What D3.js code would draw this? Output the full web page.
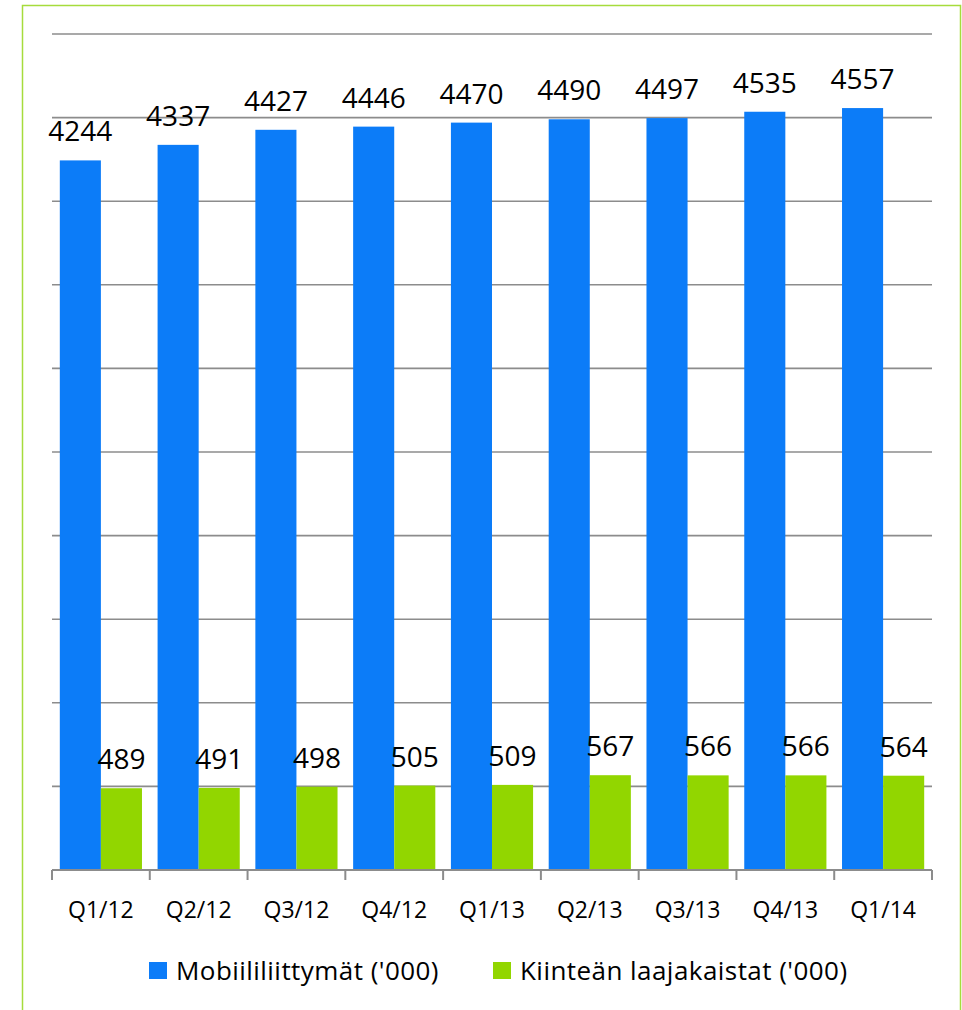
<!DOCTYPE html>
<html>
<head>
<meta charset="utf-8">
<script src="https://cdn.jsdelivr.net/npm/d3@7"></script>
<style>
  body { margin: 0; background: #fff; }
  text { font-family: "Open Sans", sans-serif; fill: #000; }
</style>
</head>
<body>
<div id="chart"></div>
<script>
// Quarterly data
let quarters = ["Q1/12", "Q2/12", "Q3/12", "Q4/12", "Q1/13", "Q2/13", "Q3/13", "Q4/13", "Q1/14"];
let mobile = [4244, 4337, 4427, 4446, 4470, 4490, 4497, 4535, 4557];
let broadband = [489, 491, 498, 505, 509, 567, 566, 566, 564];
let seriesNames = ["Mobiililiittymät ('000)", "Kiinteän laajakaistat ('000)"];
let seriesColors = ["#0c7cf8", "#92d600"];
let yTicks = [0, 500, 1000, 1500, 2000, 2500, 3000, 3500, 4000, 4500, 5000];

let width = 962;
let height = 1010;

let svg = d3.select("#chart")
            .append("svg")
            .attr("width", width)
            .attr("height", height);

// outer frame
svg.append("rect")
   .attr("x", 22.5)
   .attr("y", 5.5)
   .attr("width", 938)
   .attr("height", 1100)
   .style("fill", "none")
   .style("stroke", "#a6dc3c")
   .style("stroke-width", 1.5);

let x0 = d3.scaleBand()
           .domain(quarters)
           .range([52, 932])
           .padding(0);

let x1 = d3.scaleBand()
           .domain([0, 1])
           .range([0, x0.bandwidth()])
           .paddingInner(0)
           .paddingOuter(0.19);

let y = d3.scaleLinear()
          .domain([0, 5000])
          .range([870, 34]);

// gridlines
svg.append("g")
   .selectAll("line")
   .data(yTicks.slice(1))
   .enter()
   .append("line")
   .attr("x1", 52)
   .attr("x2", 932)
   .attr("y1", d => y(d))
   .attr("y2", d => y(d))
   .style("stroke", "#8c8c8c")
   .style("stroke-width", 1.6);

let rows = quarters.map(function(q, i) {
  return { q: q, values: [mobile[i], broadband[i]] };
});

let groups = svg.append("g")
                .selectAll("g")
                .data(rows)
                .enter()
                .append("g")
                .attr("transform", d => "translate(" + x0(d.q) + ",0)");

groups.selectAll("rect")
      .data(d => d.values.map((v, s) => ({ s: s, v: v })))
      .enter()
      .append("rect")
      .attr("x", d => x1(d.s))
      .attr("y", d => y(d.v))
      .attr("width", x1.bandwidth())
      .attr("height", d => y(0) - y(d.v))
      .style("fill", d => seriesColors[d.s]);

groups.selectAll("text")
      .data(d => d.values.map((v, s) => ({ s: s, v: v })))
      .enter()
      .append("text")
      .attr("x", d => x1(d.s) + x1.bandwidth() / 2)
      .attr("y", d => y(d.v) - 19)
      .attr("text-anchor", "middle")
      .style("font-size", "28px")
      .text(d => d.v);

// x axis
let xAxis = d3.axisBottom(x0).tickSize(0).tickPadding(0);
let axisG = svg.append("g")
               .attr("transform", "translate(0,870)")
               .call(xAxis);
axisG.select(".domain").remove();
axisG.selectAll("text")
     .attr("y", 48)
     .attr("dy", 0)
     .style("font-size", "23px")
     .style("font-family", "'Open Sans', sans-serif");

svg.append("line")
   .attr("x1", 52)
   .attr("x2", 932)
   .attr("y1", 870)
   .attr("y2", 870)
   .style("stroke", "#8c8c8c")
   .style("stroke-width", 2);

let bounds = quarters.map(q => x0(q)).concat([x0.range()[1]]);
svg.append("g")
   .selectAll("line")
   .data(bounds)
   .enter()
   .append("line")
   .attr("x1", d => d)
   .attr("x2", d => d)
   .attr("y1", 870)
   .attr("y2", 880)
   .style("stroke", "#8c8c8c")
   .style("stroke-width", 2);

// legend
let legendX = [149, 493];
let legend = svg.append("g")
                .selectAll("g")
                .data(seriesNames)
                .enter()
                .append("g")
                .attr("transform", (d, i) => "translate(" + legendX[i] + ",962)");
legend.append("rect")
      .attr("width", 18)
      .attr("height", 17)
      .style("fill", (d, i) => seriesColors[i]);
legend.append("text")
      .attr("x", 27)
      .attr("y", 18)
      .style("font-size", "26px")
      .style("letter-spacing", "0.45px")
      .text(d => d);
</script>
</body>
</html>
